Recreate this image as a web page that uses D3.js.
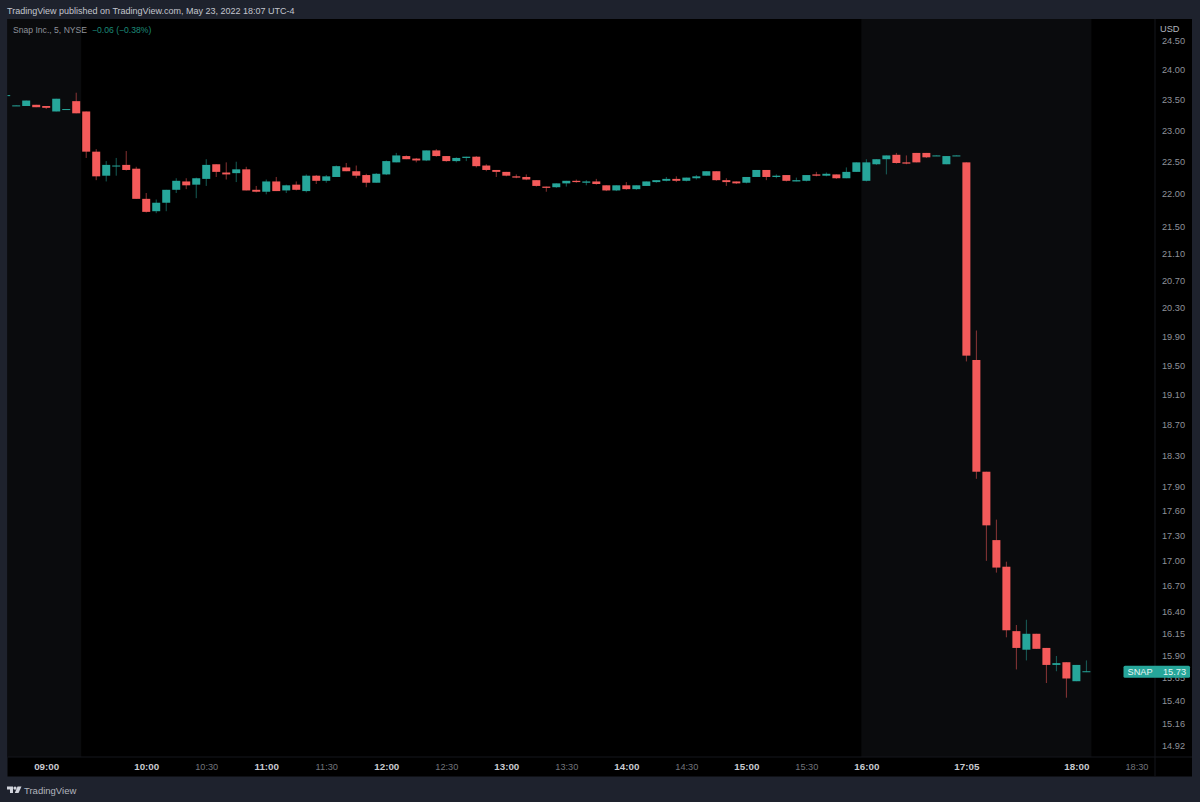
<!DOCTYPE html>
<html>
<head>
<meta charset="utf-8">
<style>
  body { margin: 0; background: #1e222d; }
  svg { display: block; font-family: "Liberation Sans", sans-serif; }
  .domain { display: none; }
</style>
</head>
<body>
<svg></svg>
<script src="https://cdn.jsdelivr.net/npm/d3@7"></script>
<script>
// SNAP 5 min candles, prices
const open = [
  23.59,23.41,23.41,23.43,23.41,23.32,23.35,23.49,23.32,22.67,
  22.29,22.44,22.46,22.40,21.93,21.74,21.87,22.07,22.20,22.15,
  22.24,22.47,22.34,22.33,22.39,22.07,22.04,22.20,22.06,22.15,
  22.05,22.29,22.21,22.27,22.42,22.36,22.30,22.18,22.31,22.50,
  22.60,22.56,22.53,22.69,22.60,22.52,22.57,22.59,22.45,22.38,
  22.35,22.28,22.27,22.22,22.12,22.11,22.17,22.21,22.18,22.20,
  22.14,22.06,22.14,22.08,22.13,22.19,22.21,22.24,22.21,22.25,
  22.29,22.36,22.22,22.20,22.18,22.27,22.38,22.27,22.30,22.20,
  22.21,22.31,22.29,22.31,22.25,22.35,22.21,22.47,22.55,22.62,
  22.50,22.65,22.65,22.60,22.47,22.60,22.50,19.58,18.10,17.25,
  16.93,16.18,15.97,16.15,15.99,15.80,15.83,15.62,15.72
];
const close = [
  23.59,23.42,23.50,23.39,23.38,23.53,23.36,23.29,22.67,22.28,
  22.46,22.45,22.38,21.93,21.73,21.87,22.07,22.21,22.14,22.25,
  22.46,22.35,22.31,22.39,22.06,22.04,22.20,22.05,22.14,22.07,
  22.29,22.21,22.28,22.44,22.36,22.29,22.18,22.32,22.52,22.61,
  22.55,22.53,22.69,22.60,22.52,22.57,22.59,22.44,22.38,22.35,
  22.29,22.26,22.23,22.13,22.10,22.17,22.21,22.19,22.20,22.16,
  22.06,22.14,22.08,22.14,22.20,22.22,22.24,22.21,22.26,22.28,
  22.36,22.22,22.19,22.17,22.27,22.38,22.27,22.29,22.21,22.22,
  22.30,22.29,22.32,22.25,22.35,22.50,22.50,22.55,22.61,22.49,
  22.48,22.50,22.58,22.61,22.60,22.61,19.64,18.10,17.43,16.92,
  16.19,15.99,16.15,15.98,15.80,15.82,15.65,15.80,15.73
];
const high = [
  23.59,23.42,23.50,23.43,23.41,23.53,23.36,23.63,23.32,22.71,
  22.52,22.57,22.68,22.43,22.02,21.92,22.07,22.25,22.25,22.26,
  22.55,22.47,22.50,22.51,22.43,22.13,22.23,22.27,22.15,22.20,
  22.31,22.30,22.30,22.45,22.49,22.45,22.32,22.33,22.53,22.65,
  22.61,22.57,22.69,22.71,22.60,22.58,22.59,22.60,22.47,22.38,
  22.35,22.31,22.31,22.22,22.12,22.17,22.21,22.23,22.22,22.24,
  22.14,22.14,22.19,22.14,22.20,22.22,22.27,22.28,22.26,22.30,
  22.36,22.36,22.25,22.20,22.27,22.38,22.38,22.31,22.30,22.26,
  22.30,22.35,22.34,22.31,22.42,22.50,22.55,22.55,22.61,22.65,
  22.61,22.65,22.65,22.61,22.60,22.61,22.50,19.99,18.10,17.50,
  16.99,16.25,16.31,16.15,15.99,15.90,15.83,15.80,15.85
];
const low = [
  23.59,23.41,23.41,23.39,23.36,23.32,23.35,23.29,22.57,22.22,
  22.20,22.29,22.37,21.93,21.72,21.71,21.74,22.02,22.08,21.94,
  22.13,22.27,22.23,22.19,22.06,22.03,22.00,22.05,22.02,22.06,
  22.03,22.16,22.18,22.27,22.36,22.25,22.11,22.18,22.30,22.50,
  22.55,22.50,22.52,22.59,22.51,22.50,22.52,22.42,22.36,22.27,
  22.28,22.25,22.22,22.12,22.04,22.10,22.12,22.18,22.14,22.15,
  22.05,22.05,22.07,22.07,22.13,22.18,22.20,22.19,22.20,22.23,
  22.29,22.21,22.13,22.16,22.17,22.27,22.22,22.25,22.20,22.20,
  22.20,22.28,22.28,22.24,22.25,22.35,22.20,22.46,22.31,22.48,
  22.47,22.50,22.57,22.60,22.47,22.60,19.56,18.01,17.00,16.86,
  16.11,15.75,15.85,15.98,15.60,15.73,15.44,15.62,15.72
];

const priceTicks = [24.5,24,23.5,23,22.5,22,21.5,21.1,20.7,20.3,19.9,19.5,19.1,18.7,18.3,17.9,17.6,17.3,17,16.7,16.4,16.15,15.9,15.65,15.4,15.16,14.92];
const timeTickBars = [4,14,20,26,32,38,44,50,56,62,68,74,80,86,96,107,113];
const timeTickLabels = ["09:00","10:00","10:30","11:00","11:30","12:00","12:30","13:00","13:30","14:00","14:30","15:00","15:30","16:00","17:05","18:00","18:30"];
const minorTimes = ["10:30","11:30","12:30","13:30","14:30","15:30","18:30"];
const sessionBars = [[-0.5,7.5],[85.5,108.5]]; // extended hours shading
const lastPrice = 15.73;

const width = 1200, height = 802;
const frame = {left: 7.5, top: 19, right: 1192, bottom: 776.5};
const paneRight = 1155, paneBottom = 757;
const up = "#26a69a", down = "#f45a5a";

const svg = d3.select("svg").attr("width", width).attr("height", height).attr("viewBox", `0 0 ${width} ${height}`);

const x = d3.scaleLinear().domain([0, 108]).range([6.2, 1086.4]);
const y = d3.scaleLog().domain([24.5, 14.92]).range([41.3, 746.4]);

svg.append("defs").append("clipPath").attr("id", "pane").append("rect")
  .attr("x", frame.left).attr("y", frame.top)
  .attr("width", paneRight - frame.left).attr("height", paneBottom - frame.top);

svg.append("rect").attr("x", frame.left).attr("y", frame.top)
  .attr("width", frame.right - frame.left).attr("height", frame.bottom - frame.top)
  .attr("fill", "#000");

const pane = svg.append("g").attr("clip-path", "url(#pane)");

pane.selectAll(".session").data(sessionBars).enter().append("rect")
  .attr("class", "session")
  .attr("x", d => x(d[0])).attr("y", frame.top)
  .attr("width", d => x(d[1]) - x(d[0])).attr("height", paneBottom - frame.top)
  .attr("fill", "#0a0b0d");

const bars = d3.range(open.length);
const color = i => close[i] >= open[i] ? up : down;

// wicks
pane.append("g").selectAll("line").data(bars).enter().append("line")
  .attr("x1", i => x(i)).attr("x2", i => x(i))
  .attr("y1", i => y(high[i])).attr("y2", i => y(low[i]))
  .attr("stroke", color).attr("stroke-opacity", 0.55).attr("stroke-width", 1);

// bodies
pane.append("g").selectAll("rect").data(bars).enter().append("rect")
  .attr("x", i => x(i) - 4).attr("width", 8)
  .attr("y", i => y(Math.max(open[i], close[i])))
  .attr("height", i => Math.max(1, Math.abs(y(open[i]) - y(close[i]))))
  .attr("fill", color);

// axis separators
svg.append("line").attr("x1", frame.left).attr("x2", frame.right).attr("y1", paneBottom).attr("y2", paneBottom).attr("stroke", "#15171c");
svg.append("line").attr("x1", paneRight).attr("x2", paneRight).attr("y1", frame.top).attr("y2", frame.bottom).attr("stroke", "#15171c");

// price axis
const priceAxis = svg.append("g").attr("transform", `translate(${paneRight},0)`)
  .call(d3.axisRight(y).tickValues(priceTicks).tickFormat(d3.format(".2f")).tickSize(0).tickPadding(7));
priceAxis.selectAll("text").attr("fill", "#8f929a").attr("font-size", 9.2).attr("font-family", "inherit").attr("dy", "0.25em");

svg.append("text").attr("x", 1160).attr("y", 31.5).attr("fill", "#b2b5be").attr("font-size", 9.2).text("USD");

// time axis
const timeAxis = svg.append("g").attr("transform", `translate(0,${paneBottom})`)
  .call(d3.axisBottom(x).tickValues(timeTickBars).tickFormat((d, i) => timeTickLabels[i]).tickSize(0).tickPadding(6));
timeAxis.selectAll("text")
  .attr("font-family", "inherit")
  .attr("font-size", (d, i) => minorTimes.includes(timeTickLabels[i]) ? 9.2 : 9.8)
  .attr("fill", (d, i) => minorTimes.includes(timeTickLabels[i]) ? "#71747b" : "#c8cad0")
  .attr("font-weight", (d, i) => minorTimes.includes(timeTickLabels[i]) ? 400 : 700);

// last price tag
const tag = svg.append("g").attr("transform", `translate(0,${y(lastPrice)})`);
tag.append("rect").attr("x", 1123.5).attr("y", -5.5).attr("width", 66.5).attr("height", 12).attr("rx", 1.5).attr("fill", up);
tag.append("text").attr("x", 1127.5).attr("y", 3.8).attr("fill", "#e8f5f2").attr("font-size", 9.2).text("SNAP");
tag.append("text").attr("x", 1186).attr("y", 3.8).attr("text-anchor", "end").attr("fill", "#e8f5f2").attr("font-size", 9.2).text(d3.format(".2f")(lastPrice));

// header + legend
svg.append("text").attr("x", 7).attr("y", 14).attr("fill", "#c3c6ce").attr("font-size", 9).text("TradingView published on TradingView.com, May 23, 2022 18:07 UTC-4");
svg.append("text").attr("x", 13).attr("y", 33.3).attr("fill", "#8f929a").attr("font-size", 8.6).text("Snap Inc., 5, NYSE");
svg.append("text").attr("x", 92).attr("y", 33.3).attr("fill", "#1c8a78").attr("font-size", 8.6).text("\u22120.06 (\u22120.38%)");

// footer logo
const logo = svg.append("g").attr("transform", "translate(7,786.5)").attr("fill", "#d1d4dc");
logo.append("path").attr("d", "M0 0H6V6.5H3V3H0Z");
logo.append("circle").attr("cx", 8).attr("cy", 1.6).attr("r", 1.6);
logo.append("path").attr("d", "M10.5 0H14.5L11.5 6.5H7.8Z");
svg.append("text").attr("x", 24).attr("y", 794).attr("fill", "#b2b5be").attr("font-size", 9.5).text("TradingView");
</script>
</body>
</html>
